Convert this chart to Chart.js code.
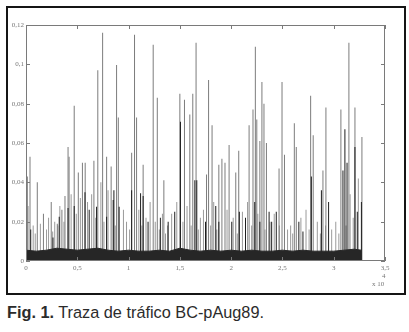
<!DOCTYPE html>
<html>
<head>
<meta charset="utf-8">
<script src="https://cdn.jsdelivr.net/npm/chart.js@4.4.1/dist/chart.umd.min.js"></script>
<style>
    body { margin: 0; background: #fff; width: 409px; height: 332px; overflow: hidden; position: relative; }
    #frame { position: absolute; left: 6px; top: 6px; width: 396px; height: 285px; border: 2px solid #151515; }
    #chart { position: absolute; left: 0; top: 0; }
    #caption { position: absolute; left: 7px; top: 303px; font: 16.3px "Liberation Sans", Arial, sans-serif; color: #2b2b2b; white-space: nowrap; }
</style>
</head>
<body>
<div id="frame"></div>
<canvas id="chart" width="409" height="300"></canvas>
<div id="caption"><b>Fig. 1.</b> Traza de tráfico BC-pAug89.</div>
<script>
// eje x en unidades de 10^4 muestras
const xTicks = [0, 0.5, 1, 1.5, 2, 2.5, 3, 3.5];
const yTicks = [0, 0.02, 0.04, 0.06, 0.08, 0.1, 0.12];

// picos altos (trazo gris)
const picosX = [0.013, 0.039, 0.11, 0.17, 0.246, 0.305, 0.35, 0.38, 0.41, 0.42, 0.47, 0.51, 0.55, 0.577, 0.662, 0.70, 0.747, 0.786, 0.83, 0.883, 0.90,
    1.03, 1.058, 1.078, 1.142, 1.24, 1.28, 1.344, 1.50, 1.545, 1.597, 1.626, 1.658, 1.76, 1.78, 1.814, 1.88, 1.91, 1.94, 1.98,
    2.045, 2.074, 2.175, 2.213, 2.236, 2.25, 2.28, 2.30, 2.32, 2.344, 2.467, 2.496, 2.52, 2.616, 2.635, 2.775, 2.80, 2.895, 2.924,
    3.07, 3.148, 3.207, 3.275];
const picosY = [0.043, 0.053, 0.040, 0.024, 0.030, 0.019, 0.026, 0.033, 0.058, 0.053, 0.079, 0.045, 0.050, 0.050, 0.051, 0.097, 0.116, 0.053, 0.048, 0.0996, 0.073,
    0.055, 0.115, 0.073, 0.049, 0.110, 0.083, 0.041, 0.085, 0.082, 0.0745, 0.085, 0.111, 0.044, 0.092, 0.069, 0.049, 0.052, 0.050, 0.059,
    0.045, 0.056, 0.069, 0.077, 0.109, 0.072, 0.061, 0.091, 0.080, 0.060, 0.047, 0.091, 0.054, 0.070, 0.058, 0.084, 0.064, 0.046, 0.078,
    0.077, 0.111, 0.078, 0.063];

// picos medios (trazo oscuro)
const oscurosX = [0.046, 0.263, 0.324, 0.41, 0.47, 0.575, 0.616, 0.688, 0.786, 0.85, 0.908, 0.857, 1.03, 1.117, 1.142, 1.19, 1.31, 1.386, 1.45, 1.506, 1.646, 1.665,
    1.75, 1.85, 1.88, 2.006, 2.08, 2.14, 2.23, 2.28, 2.37, 2.395, 2.44, 2.66, 2.70, 2.782, 2.88, 2.95, 3.09, 3.109, 3.13, 3.207, 3.23, 3.27];
const oscurosY = [0.016, 0.012, 0.0225, 0.027, 0.028, 0.035, 0.026, 0.0276, 0.0225, 0.031, 0.0276, 0.036, 0.036, 0.0345, 0.033, 0.020, 0.022, 0.020, 0.025, 0.0708, 0.041, 0.041,
    0.020, 0.028, 0.020, 0.020, 0.025, 0.022, 0.030, 0.020, 0.025, 0.020, 0.025, 0.020, 0.015, 0.043, 0.036, 0.030, 0.046, 0.067, 0.050, 0.058, 0.025, 0.030];

// picos bajos (gris claro)
const bajosX = [0.02, 0.07, 0.09, 0.14, 0.2, 0.22, 0.26, 0.28, 0.31, 0.33, 0.37, 0.44, 0.49, 0.53, 0.6, 0.64, 0.68, 0.73, 0.76, 0.8, 0.87, 0.95, 0.98, 1.01, 1.1, 1.13, 1.17, 1.21, 1.26,
    1.3, 1.33, 1.36, 1.38, 1.42, 1.47, 1.53, 1.57, 1.61, 1.68, 1.7, 1.73, 1.8, 1.83, 1.86, 1.96, 2.02, 2.06, 2.11, 2.16, 2.2, 2.26, 2.33, 2.38, 2.42, 2.47,
    2.55, 2.58, 2.6, 2.68, 2.73, 2.76, 2.84, 2.87, 2.92, 2.98, 3.02, 3.05, 3.12, 3.16, 3.19, 3.24];
const bajosY = [0.028, 0.018, 0.014, 0.019, 0.016, 0.022, 0.015, 0.02, 0.018, 0.028, 0.02, 0.034, 0.024, 0.032, 0.03, 0.034, 0.022, 0.04, 0.02, 0.036, 0.018, 0.026, 0.02, 0.016, 0.026, 0.018, 0.022, 0.03, 0.02,
    0.016, 0.024, 0.014, 0.018, 0.024, 0.03, 0.02, 0.028, 0.018, 0.016, 0.022, 0.026, 0.018, 0.03, 0.016, 0.026, 0.022, 0.014, 0.025, 0.03, 0.018, 0.024, 0.016, 0.02, 0.024, 0.018,
    0.016, 0.018, 0.014, 0.022, 0.026, 0.016, 0.02, 0.014, 0.018, 0.016, 0.02, 0.014, 0.018, 0.034, 0.022, 0.042];

// banda de fondo (nivel base del tráfico)
const bandaX = [0, 0.1, 0.2, 0.3, 0.4, 0.5, 0.6, 0.7, 0.8, 0.9, 1.0, 1.1, 1.2, 1.3, 1.4, 1.5, 1.6, 1.7, 1.8, 1.9, 2.0, 2.1, 2.2, 2.3, 2.4, 2.5, 2.6, 2.7, 2.8, 2.9, 3.0, 3.1, 3.2, 3.27];
const bandaY = [0.0055, 0.005, 0.0055, 0.0065, 0.006, 0.0055, 0.006, 0.0065, 0.0055, 0.005, 0.0055, 0.005, 0.005, 0.0055, 0.005, 0.0065, 0.0055, 0.005, 0.0055, 0.005, 0.0055,
    0.005, 0.0055, 0.005, 0.005, 0.0055, 0.005, 0.0055, 0.005, 0.005, 0.005, 0.0055, 0.006, 0.0055];

function pares(xs, ys) {
    return xs.map((x, i) => ({ x: x, y: ys[i] }));
}

function coma(v) {
    return String(Number(v.toFixed(2))).replace('.', ',');
}

// caja, marcas hacia dentro y etiqueta x 10^4
const cajaMatlab = {
    id: 'cajaMatlab',
    afterDraw(chart) {
        const ctx = chart.ctx;
        const a = chart.chartArea;
        const sx = chart.scales.x;
        const sy = chart.scales.y;
        ctx.save();
        ctx.strokeStyle = '#7a7a7a';
        ctx.lineWidth = 1;
        ctx.strokeRect(a.left + 0.5, a.top + 0.5, a.right - a.left - 1, a.bottom - a.top - 1);
        ctx.beginPath();
        xTicks.forEach(t => {
            const px = Math.round(sx.getPixelForValue(t)) + 0.5;
            ctx.moveTo(px, a.bottom); ctx.lineTo(px, a.bottom - 4);
            ctx.moveTo(px, a.top); ctx.lineTo(px, a.top + 4);
        });
        yTicks.forEach(t => {
            const py = Math.round(sy.getPixelForValue(t)) + 0.5;
            ctx.moveTo(a.left, py); ctx.lineTo(a.left + 4, py);
            ctx.moveTo(a.right, py); ctx.lineTo(a.right - 4, py);
        });
        ctx.stroke();
        ctx.fillStyle = '#777';
        ctx.font = '7px "Liberation Serif", serif';
        ctx.textAlign = 'left';
        ctx.fillText('x 10', a.right - 13, a.bottom + 25);
        ctx.fillText('4', a.right - 3, a.bottom + 17);
        ctx.restore();
    }
};

const ctx = document.getElementById('chart').getContext('2d');
new Chart(ctx, {
    type: 'bar',
    data: {
        datasets: [
            {
                type: 'line',
                data: pares(bandaX, bandaY),
                borderColor: '#262626',
                backgroundColor: '#262626',
                borderWidth: 1,
                pointRadius: 0,
                fill: 'origin',
                order: 0
            },
            {
                data: pares(oscurosX, oscurosY),
                backgroundColor: '#1e1e1e',
                barThickness: 1,
                inflateAmount: 0,
                grouped: false,
                order: 1
            },
            {
                data: pares(picosX, picosY),
                backgroundColor: '#7c7c7c',
                barThickness: 1,
                inflateAmount: 0,
                grouped: false,
                order: 2
            },
            {
                data: pares(bajosX, bajosY),
                backgroundColor: '#9a9a9a',
                barThickness: 1,
                inflateAmount: 0,
                grouped: false,
                order: 3
            }
        ]
    },
    options: {
        responsive: false,
        animation: false,
        devicePixelRatio: 1,
        layout: { padding: { left: 6, top: 25, right: 24, bottom: 25 } },
        plugins: {
            legend: { display: false },
            tooltip: { enabled: false }
        },
        scales: {
            x: {
                type: 'linear',
                min: 0,
                max: 3.5,
                offset: false,
                grid: { display: false, drawTicks: false },
                border: { display: false },
                afterFit: s => { s.height = 14; },
                afterBuildTicks: s => { s.ticks = xTicks.map(v => ({ value: v })); },
                ticks: {
                    padding: 3,
                    maxRotation: 0,
                    autoSkip: false,
                    color: '#777',
                    font: { family: '"Liberation Serif", serif', size: 7 },
                    callback: v => coma(v)
                }
            },
            y: {
                min: 0,
                max: 0.12,
                grid: { display: false, drawTicks: false },
                border: { display: false },
                afterFit: s => { s.width = 20; },
                afterBuildTicks: s => { s.ticks = yTicks.map(v => ({ value: v })); },
                ticks: {
                    padding: 2,
                    color: '#777',
                    font: { family: '"Liberation Serif", serif', size: 7 },
                    callback: v => coma(v)
                }
            }
        }
    },
    plugins: [cajaMatlab]
});
</script>
</body>
</html>
